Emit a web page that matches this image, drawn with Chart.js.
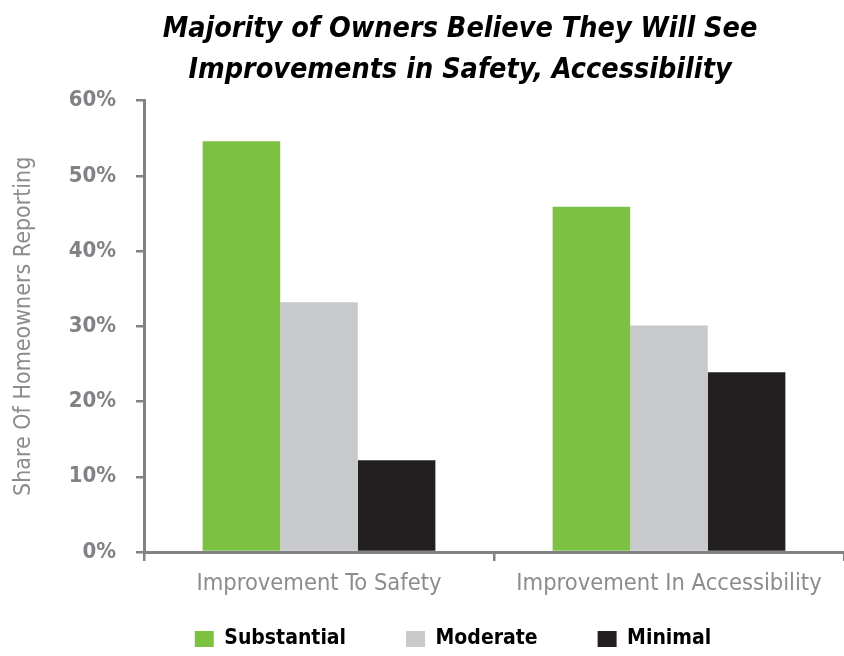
<!DOCTYPE html>
<html>
<head>
<meta charset="utf-8">
<script src="https://cdn.jsdelivr.net/npm/chart.js@4"></script>
<style>
  html, body { margin: 0; padding: 0; background: #fff; }
  #wrap { width: 844px; height: 656px; }
</style>
</head>
<body>
<div id="wrap"><canvas id="chart"></canvas></div>
<script>
const categories = ['Improvement To Safety', 'Improvement In Accessibility'];
const substantial = [54.6, 45.9];
const moderate = [33.2, 30.1];
const minimal = [12.2, 23.9];
const yTicks = [0, 10, 20, 30, 40, 50, 60];

const narrow = "'DejaVu Sans Condensed', 'Liberation Sans Narrow', sans-serif";
const axisGrey = '#808285';
const legendPad = 60;
const legendFont = 21;

// legend: wide gaps between items but a short box, and title/legend nudged right
const nudge = {
    id: 'nudge',
    beforeLayout(chart) {
        const lg = chart.legend;
        if (lg && !lg._short) {
            const fit = lg.fit.bind(lg);
            lg.fit = function () { fit(); this.height = 34; };
            lg._short = true;
        }
    },
    afterLayout(chart) {
        if (chart.titleBlock) { chart.titleBlock.left += 38; chart.titleBlock.right += 38; }
        const lg = chart.legend;
        if (lg) {
            lg.left += 31; lg.right += 31;
            lg.top = (lg.top + lg.bottom) / 2 - legendPad - legendFont / 2;
        }
    }
};

new Chart(document.getElementById('chart'), {
    type: 'bar',
    data: {
        labels: categories,
        datasets: [
            { label: 'Substantial', data: substantial, backgroundColor: '#7dc142' },
            { label: 'Moderate', data: moderate, backgroundColor: '#c8c9cb' },
            { label: 'Minimal', data: minimal, backgroundColor: '#231f20' }
        ]
    },
    options: {
        responsive: true,
        maintainAspectRatio: false,
        animation: false,
        layout: { padding: 0 },
        datasets: {
            bar: { barPercentage: 1, categoryPercentage: 0.665 }
        },
        scales: {
            x: {
                afterFit: s => { s.height = 70; },
                grid: { display: true, drawOnChartArea: false, offset: true, tickLength: 9, color: axisGrey, lineWidth: 2.5 },
                border: { display: true, color: axisGrey, width: 3 },
                ticks: {
                    color: '#8a8c8e',
                    padding: 9,
                    autoSkip: false,
                    maxRotation: 0,
                    font: { family: narrow, size: 23.5 }
                }
            },
            y: {
                min: 0,
                max: 60,
                afterFit: s => { s.width = 144; },
                afterBuildTicks: s => { s.ticks = yTicks.map(v => ({ value: v })); },
                grid: { display: true, drawOnChartArea: false, tickLength: 8, color: axisGrey, lineWidth: 2.5 },
                border: { display: true, color: axisGrey, width: 3 },
                ticks: {
                    color: axisGrey,
                    padding: 20,
                    font: { family: narrow, size: 22, weight: 'bold' },
                    callback: v => v + '%'
                },
                title: {
                    display: true,
                    text: 'Share Of Homeowners Reporting',
                    color: '#8a8c8e',
                    padding: { top: 10, bottom: 0 },
                    font: { family: narrow, size: 23 }
                }
            }
        },
        plugins: {
            title: {
                display: true,
                text: ['Majority of Owners Believe They Will See', 'Improvements in Safety, Accessibility'],
                color: '#000',
                padding: { top: 9, bottom: 9 },
                font: { family: narrow, size: 28.5, weight: 'bold', style: 'italic', lineHeight: 1.45 }
            },
            legend: {
                position: 'bottom',
                labels: {
                    color: '#000',
                    boxWidth: 19,
                    boxHeight: 16,
                    padding: legendPad,
                    font: { family: narrow, size: legendFont, weight: 'bold' }
                }
            },
            tooltip: { enabled: false }
        }
    },
    plugins: [nudge]
});
</script>
</body>
</html>
